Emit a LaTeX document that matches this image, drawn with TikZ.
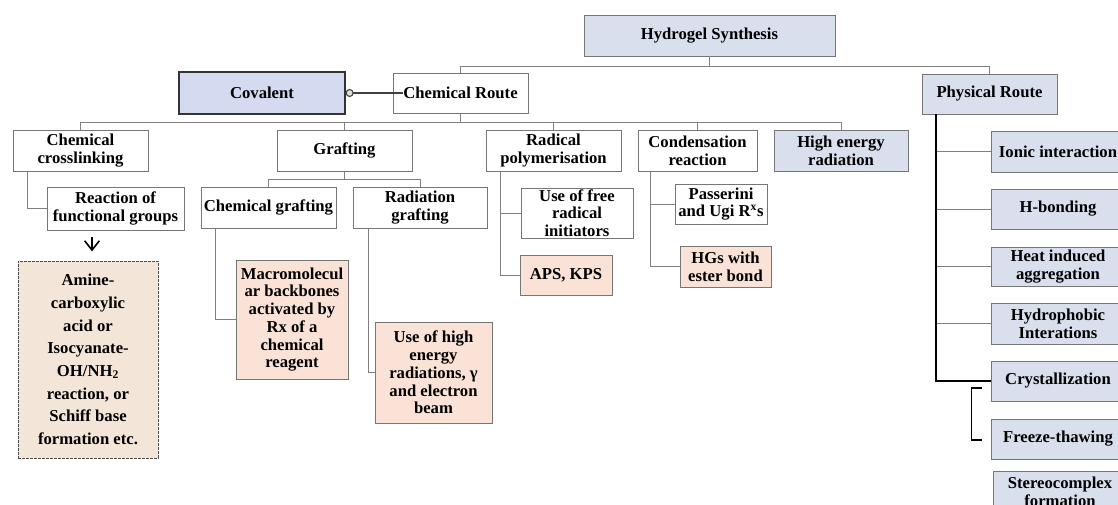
\documentclass[tikz,border=0pt]{standalone}
\usepackage{fontspec}
\setmainfont{Liberation Serif}
\usepackage{tikz}
\usetikzlibrary{arrows.meta}

\definecolor{boxblue}{RGB}{217,223,236}
\definecolor{covblue}{RGB}{212,219,240}
\definecolor{peach}{RGB}{250,227,214}
\definecolor{beige}{RGB}{243,229,216}
\definecolor{boxline}{RGB}{118,118,118}
\definecolor{linkgray}{RGB}{128,128,128}

\begin{document}
\begin{tikzpicture}[x=0.75pt,y=-0.75pt]
  \tikzset{box/.style 2 args = {shape=rectangle,draw=boxline,fill=white,line width=0.6pt,align=center,inner sep=1pt,
      minimum width=#1*0.75pt,minimum height=#2*0.75pt,font=\fontsize{12.5}{13.3}\selectfont\bfseries}}
  \tikzset{conn/.style = {draw=linkgray,line width=0.7pt}}
  \tikzset{trunk/.style = {draw=black,line width=1.5pt}}
  \tikzset{covlink/.style = {{Circle[length=6pt,width=6pt,fill=black!12]}-,draw=black!75,line width=0.8pt}}
  \tikzset{downarrow/.style = {-{Straight Barb[length=7pt,width=11pt,line width=1.2pt]},line width=1.2pt}}

  \path[use as bounding box,fill=white] (0,0) rectangle (1118,505);
  \clip (0,0) rectangle (1118,505);

  % top levels
  \node[box={251}{41},fill=boxblue] (hs) at (709.5,35.5) {Hydrogel Synthesis};
  \node[box={135}{40}] (cr) at (460.5,93) {Chemical Route};
  \node[box={135}{40},fill=boxblue] (pr) at (989.5,94) {Physical Route};
  \node[box={166}{42},fill=covblue,draw=black!80,line width=1pt] (cov) at (262,93) {Covalent};

  % chemical route
  \node[box={135}{41}] (cc) at (80.5,150.5) {Chemical\\crosslinking};
  \node[box={135}{41}] (gr) at (344.5,150.5) {Grafting};
  \node[box={135}{41}] (rp) at (553.5,150.5) {Radical\\polymerisation};
  \node[box={119}{41}] (cd) at (697.5,150.5) {Condensation\\reaction};
  \node[box={134}{41},fill=boxblue] (he) at (841,150.5) {High energy\\radiation};

  \node[box={137}{43}] (rf) at (115.5,208.5) {Reaction of\\functional groups};
  \node[box={135}{41}] (cg) at (268.5,207.5) {Chemical grafting};
  \node[box={134}{41}] (rg) at (420,207.5) {Radiation\\grafting};
  \node[box={112}{50}] (uf) at (577,213) {Use of free\\radical\\initiators};
  \node[box={92}{40}] (pu) at (721,204) {Passerini\\and Ugi R\textsuperscript{x}s};

  \node[box={140}{197},fill=beige,draw=black!70,dash pattern=on 2pt off 1pt,
        font=\fontsize{12.5}{17}\selectfont\bfseries] (am) at (88,359.5)
       {Amine-\\carboxylic\\acid or\\Isocyanate-\\OH/NH\textsubscript{2}\\reaction, or\\Schiff base\\formation etc.};
  \node[box={112}{119},fill=peach] (mb) at (292,319.5) {Macromolecul\\ar backbones\\activated by\\Rx of a\\chemical\\reagent};
  \node[box={117}{101},fill=peach] (uh) at (433.5,372.5) {Use of high\\energy\\radiations, γ\\and electron\\beam};
  \node[box={92}{40},fill=peach] (ap) at (566,275) {APS, KPS};
  \node[box={91}{41},fill=peach] (hg) at (725.5,266.5) {HGs with\\ester bond};

  % physical route
  \node[box={134}{41},fill=boxblue] (io) at (1058,151.5) {Ionic interaction};
  \node[box={134}{40},fill=boxblue] (hb) at (1058,209) {H-bonding};
  \node[box={134}{39},fill=boxblue] (hi) at (1058,266.5) {Heat induced\\aggregation};
  \node[box={134}{41},fill=boxblue] (hp) at (1058,323.5) {Hydrophobic\\Interations};
  \node[box={134}{40},fill=boxblue] (cy) at (1058,381) {Crystallization};
  \node[box={134}{40},fill=boxblue] (ft) at (1058,439) {Freeze-thawing};
  \node[box={134}{41},fill=boxblue] (sc) at (1060,491.5) {Stereocomplex\\formation};

  % links
  \foreach \to in {cr,pr}
    \draw[conn] (hs.south) -- ++(0,10) -| (\to.north);
  \foreach \to in {cc,gr,rp,cd,he}
    \draw[conn] (cr.south) -- ++(0,9) -| (\to.north);
  \foreach \to in {cg,rg}
    \draw[conn] (gr.south) -- ++(0,8) -| (\to.north);
  \foreach \from/\to/\dx in {cc/rf/53.5, cg/mb/53.5, rg/uh/52, rp/uf/53.5, rp/ap/53.5, cd/pu/47.5, cd/hg/47.5}
    \draw[conn] (\from.south) ++(-\dx,0) |- (\to.west);
  \foreach \to in {io,hb,hi,hp}
    \draw[conn] (pr.south) ++(-53.5,0) |- (\to.west);
  \draw[trunk] (pr.south) ++(-53.5,0) |- (cy.west);

  \draw[covlink] (cov.east) -- ([xshift=7.5pt]cr.west);
  \draw[downarrow] (rf.south) ++(-23.5,7) -- ++(0,14);
  \draw[line width=1.1pt] (cy.west) ++(-9,7) -- ++(-10,0) -- ++(0,52) -- ++(10,0);
\end{tikzpicture}
\end{document}
